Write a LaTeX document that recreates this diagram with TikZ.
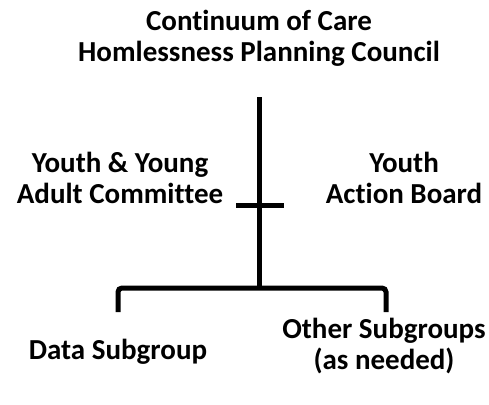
\documentclass[tikz,border=0pt]{standalone}
\usepackage{fontspec}
\setmainfont{Carlito}[Ligatures=NoCommon]
\usetikzlibrary{positioning}
\tikzset{
	lbl/.style={font=\bfseries\fontsize{29}{31}\selectfont, align=center, inner sep=0pt},
	trunk/.style={line width=5pt}
}
\begin{document}
\begin{tikzpicture}[x=1pt,y=-1pt]
	\useasboundingbox (0,0) rectangle (489,404);
	% text blocks
	\node[lbl] (council) at (259,38) {Continuum of Care\\Homlessness Planning Council};
	\node[lbl] (yyac) at (120,178) {Youth \& Young\\Adult Committee};
	\node[lbl] (yab) at (404,178) {Youth\\Action Board};
	\node[lbl] (data) at (118,352) {Data Subgroup};
	\node[lbl] (other) at (384,346) {Other Subgroups\\(as needed)};
	% connector points
	\coordinate (top) at (259,97);
	\coordinate (hub) at (259,288);
	\coordinate (tickl) at (236,205);
	\coordinate (tickr) at (284,205);
	\coordinate (legl) at (118,312);
	\coordinate (legr) at (386,312);
	% draw the lines
	\draw[trunk] (top) -- (hub);
	\draw[trunk] (tickl) -- (tickr);
	\draw[trunk, rounded corners=4pt] (legl) |- (hub) -| (legr);
\end{tikzpicture}
\end{document}
